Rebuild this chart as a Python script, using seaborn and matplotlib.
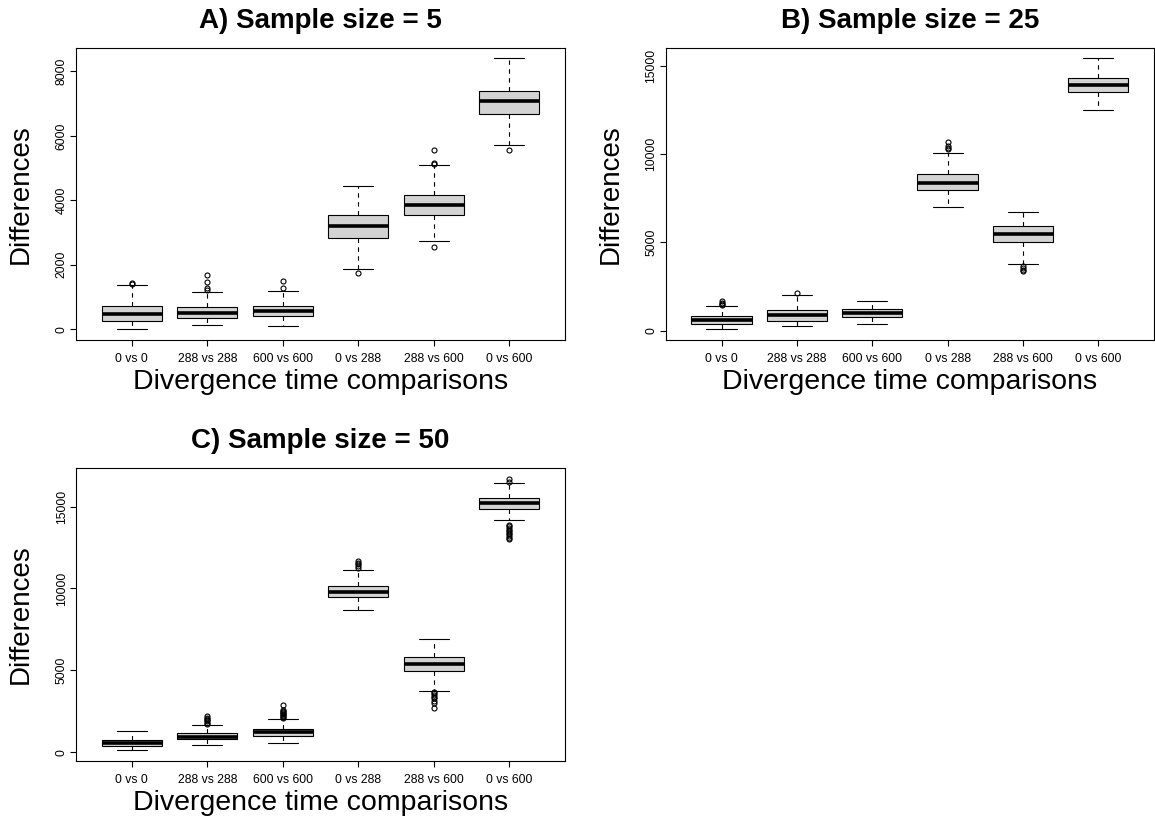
import pandas as pd
import matplotlib.pyplot as plt
import seaborn as sns

comparisons = ["0 vs 0", "288 vs 288", "600 vs 600", "0 vs 288", "288 vs 600", "0 vs 600"]

# per box: lower whisker, Q1, median, Q3, upper whisker
a_stats = [
    [0, 259, 455, 714, 1356],
    [114, 331, 497, 683, 1149],
    [103, 393, 559, 724, 1200],
    [1853, 2826, 3209, 3540, 4430],
    [2722, 3529, 3850, 4161, 5092],
    [5713, 6686, 7069, 7400, 8404],
]
a_outliers = [
    [1410, 1440],
    [1230, 1275, 1450, 1680],
    [1275, 1490],
    [1740],
    [2536, 5130, 5160, 5570],
    [5568],
]

b_stats = [
    [94, 377, 584, 811, 1395],
    [264, 566, 867, 1169, 1998],
    [377, 754, 980, 1225, 1697],
    [7012, 7936, 8369, 8860, 10028],
    [3751, 5014, 5467, 5900, 6729],
    [12460, 13478, 13892, 14288, 15400],
]
b_outliers = [
    [1480, 1530, 1600, 1690],
    [2130],
    [],
    [10280, 10330, 10430, 10660],
    [3400, 3450, 3550, 3650],
    [],
]

c_stats = [
    [143, 408, 571, 755, 1265],
    [469, 796, 959, 1143, 1653],
    [551, 1000, 1225, 1429, 2020],
    [8715, 9450, 9797, 10164, 11103],
    [3755, 4960, 5409, 5796, 6919],
    [14165, 14879, 15205, 15512, 16430],
]
c_outliers = [
    [],
    [1720, 1800, 1880, 1950, 2030, 2120, 2200],
    [2100, 2150, 2200, 2260, 2320, 2380, 2440, 2500, 2600, 2880],
    [11270, 11370, 11470, 11570, 11670],
    [2700, 3000, 3150, 3300, 3400, 3500, 3600, 3680],
    [13000, 13100, 13200, 13300, 13400, 13500, 13600, 13700, 13800, 13900, 16520, 16680],
]


def box_frame(stats, outliers):
    rows = []
    for comp, (lo, q1, med, q3, hi), out in zip(comparisons, stats, outliers):
        # repeat the hinge values so that the quartiles land on the read values
        vals = [lo] + [q1] * 40 + [med] * 40 + [q3] * 40 + [hi] + list(out)
        rows += [(comp, v) for v in vals]
    return pd.DataFrame(rows, columns=["comparison", "diff"])


def draw_panel(ax, df, title, yticks):
    sns.boxplot(
        data=df, x="comparison", y="diff", order=comparisons, ax=ax,
        color="lightgray", saturation=1, width=0.8, whis=1.5,
        linecolor="black", linewidth=0.8, fliersize=3.6,
        medianprops=dict(color="black", linewidth=2.6),
        whiskerprops=dict(color="black", linestyle=(0, (4, 4))),
        capprops=dict(color="black"),
        flierprops=dict(marker="o", markersize=3.6, markerfacecolor="none",
                        markeredgecolor="black", markeredgewidth=0.8),
    )
    lo, hi = df["diff"].min(), df["diff"].max()
    span = hi - lo
    ax.set_ylim(lo - 0.04 * span, hi + 0.04 * span)
    ax.set_xlim(-0.74, len(comparisons) - 1 + 0.74)
    ax.set_yticks(yticks)

    ax.tick_params(axis="y", labelrotation=90, length=4.5, width=0.8, pad=1.5, labelsize=8.8)
    ax.tick_params(axis="x", length=4.5, width=0.8, pad=5, labelsize=8.8)
    for lab in ax.get_yticklabels():
        lab.set_va("center")

    for s in ax.spines.values():
        s.set_visible(True)
        s.set_linewidth(0.8)
        s.set_color("black")

    ax.set_title(title, fontsize=20, fontweight="bold", pad=14.5)
    ax.set_xlabel("Divergence time comparisons", fontsize=20.5)
    ax.set_ylabel("Differences", fontsize=20)
    ax.xaxis.set_label_coords(0.5, -0.1)
    ax.yaxis.set_label_coords(-0.086, 0.5)


sns.set_style("ticks")
plt.rcParams["font.family"] = ["Liberation Sans", "DejaVu Sans"]
for key in ["text.color", "axes.labelcolor", "xtick.color", "ytick.color"]:
    plt.rcParams[key] = "black"

fig = plt.figure(figsize=(11.55, 8.23), dpi=100)
ax_a = fig.add_axes([0.0658, 0.5869, 0.4234, 0.3552])
ax_b = fig.add_axes([0.5764, 0.5869, 0.4228, 0.3552])
ax_c = fig.add_axes([0.0658, 0.0757, 0.4234, 0.3553])

draw_panel(ax_a, box_frame(a_stats, a_outliers), "A) Sample size = 5", [0, 2000, 4000, 6000, 8000])
draw_panel(ax_b, box_frame(b_stats, b_outliers), "B) Sample size = 25", [0, 5000, 10000, 15000])
draw_panel(ax_c, box_frame(c_stats, c_outliers), "C) Sample size = 50", [0, 5000, 10000, 15000])

fig.savefig("out.png", dpi=100, facecolor="white")
